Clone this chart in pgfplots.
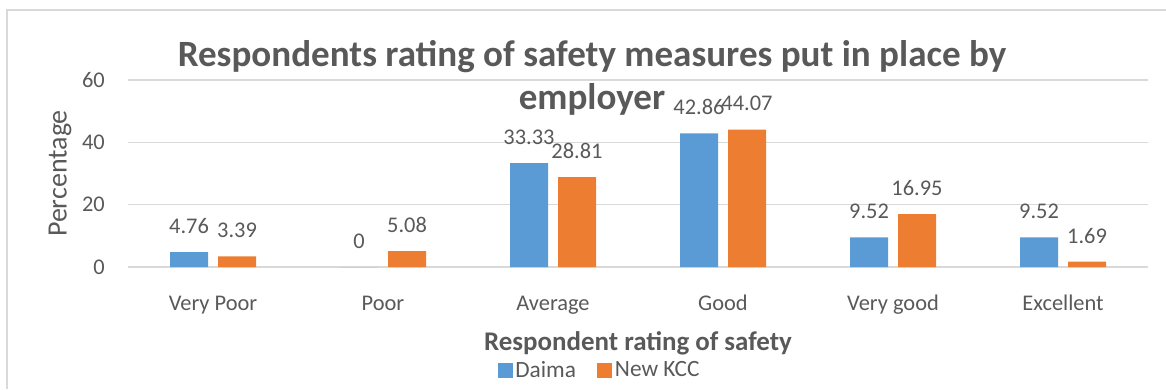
\documentclass[border=0pt]{standalone}
\usepackage{pgfplots}
\pgfplotsset{compat=1.18}
\usepackage{fontspec}
\setmainfont{Carlito}
\definecolor{cblue}{HTML}{5B9BD5}
\definecolor{corange}{HTML}{ED7D31}
\definecolor{tgrey}{HTML}{595959}
\definecolor{ggrey}{HTML}{D9D9D9}
\begin{document}
\begin{tikzpicture}
\useasboundingbox (0,0) rectangle (874.5pt,291.75pt);
\draw[ggrey, line width=1pt] (5.25pt,0) -- (5.25pt,284.25pt) -- (874.5pt,284.25pt);
\begin{axis}[
  at={(96pt,91.5pt)}, anchor=south west,
  scale only axis, width=765pt, height=140.25pt,
  ybar=7.5pt, bar width=28.5pt,
  xmin=-0.5, xmax=5.5, ymin=0, ymax=60,
  xtick={0,1,2,3,4,5},
  xticklabels={Very Poor, Poor, Average, Good, Very good, Excellent},
  ytick={0,20,40,60},
  axis line style={draw=none},
  tick style={draw=none},
  ymajorgrids, major grid style={color=ggrey, line width=1pt},
  ticklabel style={text=tgrey, font=\fontsize{16.8}{19}\selectfont},
  xticklabel style={anchor=base, yshift=-28.5pt, inner sep=0pt},
  yticklabel style={anchor=east, inner sep=0pt, xshift=-17.25pt},
  /pgf/number format/assume math mode=true,
  /pgf/number format/fixed, /pgf/number format/precision=2,
  nodes near coords,
  every node near coord/.append style={anchor=base, yshift=14pt, inner sep=0pt, text=tgrey, font=\fontsize{16.8}{19}\selectfont},
  xlabel={Respondent rating of safety},
  xlabel style={at={(axis description cs:0.5,-0.445)}, anchor=base, text=tgrey, inner sep=0pt, font=\fontsize{20.2}{24}\selectfont\bfseries},
  ylabel={Percentage},
  ylabel style={at={(axis description cs:-0.0667,0.5)}, anchor=center, text=tgrey, inner sep=0pt, font=\fontsize{21}{24}\selectfont},
  legend columns=2,
  legend style={at={(axis description cs:0.4627,-0.551)}, anchor=center, draw=none, fill=none,
    font=\fontsize{17.5}{20}\selectfont, text=tgrey,
    /tikz/every even column/.append style={column sep=14pt}},
  legend image code/.code={\fill[#1] (0pt,-5.6pt) rectangle (11.2pt,5.6pt);},
]
\addplot[fill=cblue, draw=none] coordinates {(0,4.76) (1,0) (2,33.33) (3,42.86) (4,9.52) (5,9.52)};
\addplot[fill=corange, draw=none] coordinates {(0,3.39) (1,5.08) (2,28.81) (3,44.07) (4,16.95) (5,1.69)};
\legend{Daima, New KCC}
\end{axis}
\node[anchor=base, text=tgrey, font=\fontsize{27.8}{32}\selectfont\bfseries, inner sep=0pt] at (444pt,241.7pt) {Respondents rating of safety measures put in place by};
\node[anchor=base, text=tgrey, font=\fontsize{27.8}{32}\selectfont\bfseries, inner sep=0pt] at (444pt,209.25pt) {employer};
\end{tikzpicture}
\end{document}
